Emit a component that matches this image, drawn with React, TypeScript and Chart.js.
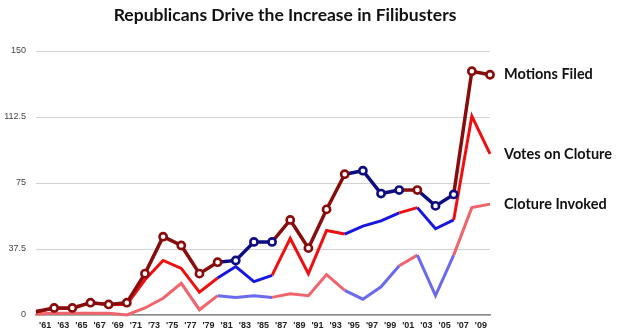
import React, { useEffect, useRef } from "react";
import { Chart, registerables } from "chart.js";

Chart.register(...registerables);

const chartTitle = "Republicans Drive the Increase in Filibusters";

// x positions of each Congress (86th .. 111th)
const sessions = [0, 1, 2, 3, 4, 5, 6, 7, 8, 9, 10, 11, 12, 13, 14, 15, 16, 17, 18, 19, 20, 21, 22, 23, 24, 25];

const tickLabels = [
  "'61", "'63", "'65", "'67", "'69", "'71", "'73", "'75", "'77", "'79", "'81", "'83", "'85",
  "'87", "'89", "'91", "'93", "'95", "'97", "'99", "'01", "'03", "'05", "'07", "'09",
];

// party in the Senate minority for each Congress (R = red, D = blue)
const minorityParty = [
  "R", "R", "R", "R", "R", "R", "R", "R", "R", "R", "R",
  "D", "D", "D",
  "R", "R", "R", "R",
  "D", "D", "D",
  "R",
  "D", "D",
  "R", "R",
];

const motionsFiled = [2, 4, 4, 7, 6, 7, 23.5, 44.5, 39.5, 23.5, 30, 31, 41.5, 41.5, 54, 38, 60, 80, 82, 69, 71, 71, 62, 68.5, 138.5, 136.5];
const votesOnCloture = [1.5, 4, 3.5, 7, 6, 6, 20, 31, 26.5, 13, 21, 27.5, 19, 22.5, 43.5, 23.5, 48, 46, 50.5, 53.5, 58, 61, 49, 54, 113, 91.5];
const clotureInvoked = [0.5, 1, 1, 1, 1, 0, 4, 9.5, 18, 3, 11, 10, 11, 10, 12, 11, 23, 14, 9, 16, 28, 34, 11, 34, 61, 63];

const yTicks = [0, 37.5, 75, 112.5, 150];

const palette = {
  motions: { R: "#870c0c", D: "#0d0d80" },
  votes: { R: "#ee1010", D: "#1616e0" },
  cloture: { R: "#f0646c", D: "#6a6aee" },
};

function toPoints(values: number[]) {
  return values.map((v, i) => ({ x: sessions[i], y: v }));
}

function colorsFor(key: "motions" | "votes" | "cloture") {
  return minorityParty.map((p) => (palette[key] as any)[p]);
}

const annotate = {
  id: "annotate",
  afterDraw(chart: any) {
    const ctx = chart.ctx;
    ctx.save();
    ctx.fillStyle = "#111";
    ctx.font = "bold 17.5px Lato";
    ctx.textAlign = "center";
    ctx.textBaseline = "alphabetic";
    ctx.fillText(chartTitle, 285, 21);
    ctx.font = "bold 14.5px Lato";
    ctx.textAlign = "left";
    ctx.textBaseline = "middle";
    chart.data.datasets.forEach((ds: any, i: number) => {
      const meta = chart.getDatasetMeta(i);
      const last = meta.data[meta.data.length - 1];
      ctx.fillText(ds.label, chart.chartArea.right + 14, last.y);
    });
    ctx.restore();
  },
};

export default function App() {
  const ref = useRef<HTMLCanvasElement | null>(null);

  useEffect(() => {
    document.body.style.margin = "0";
    if (!ref.current) return;
    const mCols = colorsFor("motions");
    const vCols = colorsFor("votes");
    const cCols = colorsFor("cloture");
    const chart = new Chart(ref.current, {
      type: "line",
      data: {
        datasets: [
          {
            label: "Motions Filed",
            data: toPoints(motionsFiled),
            borderWidth: 3.5,
            borderColor: mCols[0],
            segment: { borderColor: (c: any) => mCols[c.p1DataIndex] },
            pointRadius: motionsFiled.map((_, i) => (i === 0 ? 0 : 3.6)),
            pointBorderWidth: 2.6,
            pointBackgroundColor: "#ffffff",
            pointBorderColor: mCols,
            tension: 0,
            clip: false as any,
          },
          {
            label: "Votes on Cloture",
            data: toPoints(votesOnCloture),
            borderWidth: 3,
            borderColor: vCols[0],
            segment: { borderColor: (c: any) => vCols[c.p1DataIndex] },
            pointRadius: 0,
            tension: 0,
            clip: false as any,
          },
          {
            label: "Cloture Invoked",
            data: toPoints(clotureInvoked),
            borderWidth: 3,
            borderColor: cCols[0],
            segment: { borderColor: (c: any) => cCols[c.p1DataIndex] },
            pointRadius: 0,
            tension: 0,
            clip: false as any,
          },
        ],
      },
      options: {
        animation: false,
        responsive: false,
        devicePixelRatio: 1,
        layout: { padding: { top: 51, right: 130, left: 0, bottom: 0 } },
        plugins: {
          legend: { display: false },
          tooltip: { enabled: false },
          title: { display: false },
        },
        scales: {
          x: {
            type: "linear",
            min: 0,
            max: 25,
            afterBuildTicks: (axis: any) => {
              axis.ticks = tickLabels.map((_, i) => ({ value: sessions[i] + 0.5 }));
            },
            afterFit: (axis: any) => {
              axis.height = 21;
            },
            grid: { display: false, drawTicks: false },
            border: { display: true, color: "#8c8c8c", width: 1.5 },
            ticks: {
              autoSkip: false,
              maxRotation: 0,
              padding: 5,
              color: "#222",
              font: { family: "Liberation Sans, Arial", size: 9, weight: "bold" },
              callback: (_v: any, i: number) => tickLabels[i],
            },
          },
          y: {
            min: 0,
            max: 150,
            afterBuildTicks: (axis: any) => {
              axis.ticks = yTicks.map((v) => ({ value: v }));
            },
            afterFit: (axis: any) => {
              axis.width = 36;
            },
            grid: { color: "#d2d2d2", lineWidth: 1, drawTicks: false },
            border: { display: false },
            ticks: {
              padding: 10,
              color: "#444",
              font: { family: "Liberation Sans, Arial", size: 9 },
              callback: (v: any) => String(v),
            },
          },
        },
      },
      plugins: [annotate],
    } as any);
    return () => chart.destroy();
  }, []);

  return (
    <div style={{ width: 620, height: 336 }}>
      <canvas ref={ref} width={620} height={336} style={{ width: 620, height: 336, display: "block" }} />
    </div>
  );
}
